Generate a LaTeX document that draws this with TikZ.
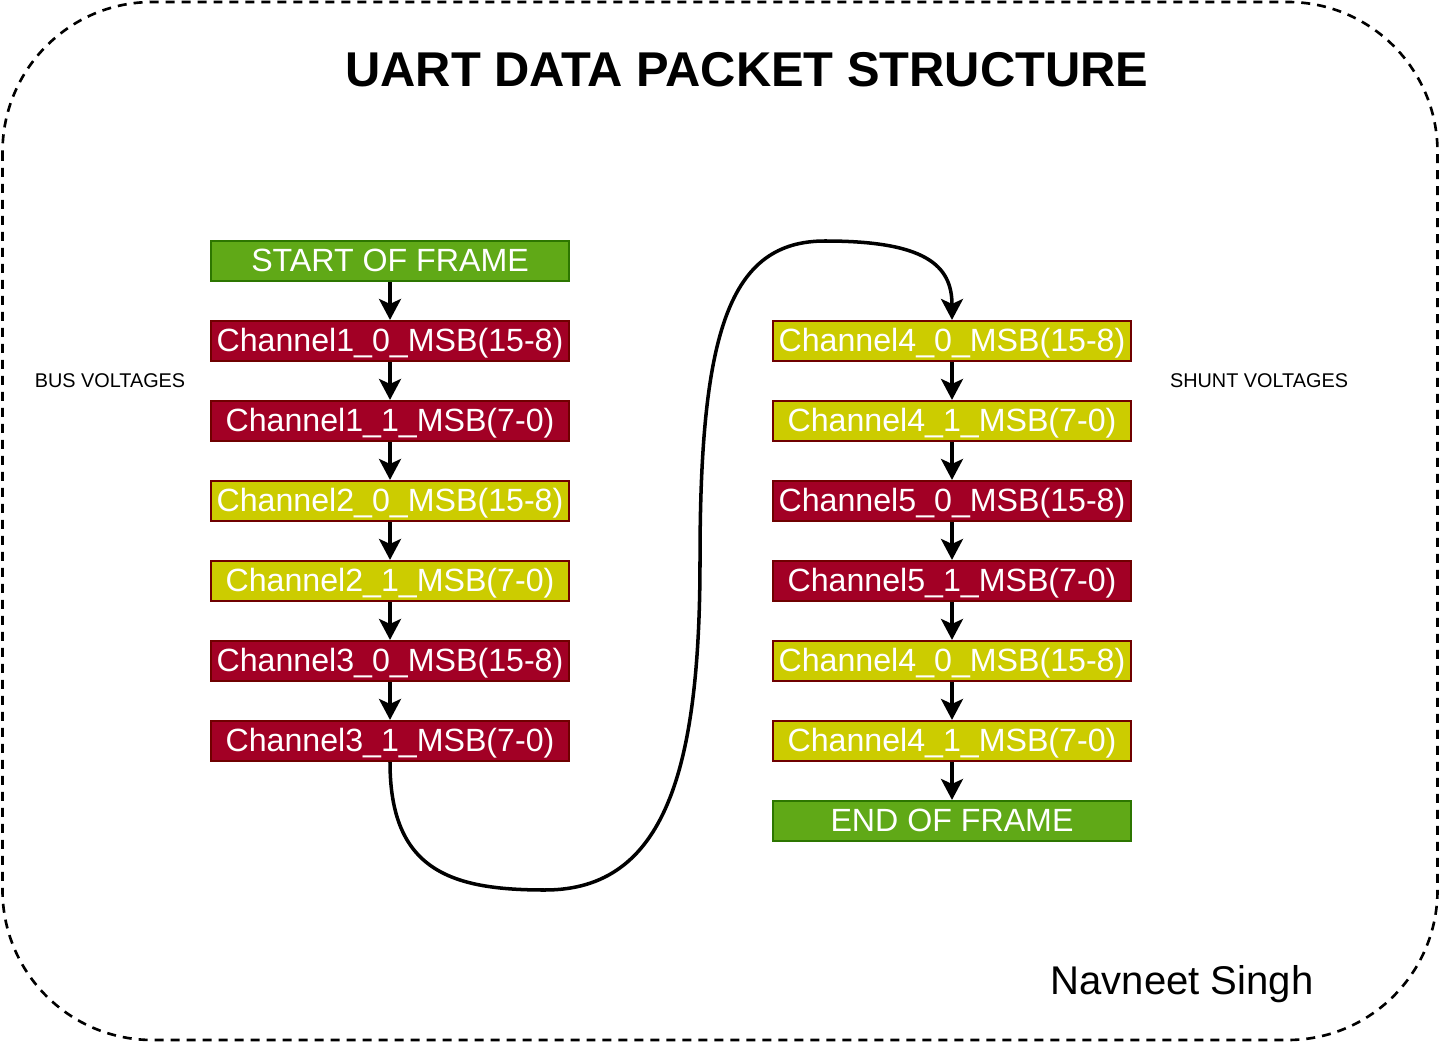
\documentclass[tikz,border=0pt]{standalone}
\usepackage{fontspec}
\setmainfont{Liberation Sans}
\usetikzlibrary{arrows.meta}

\definecolor{busred}{HTML}{A20025}
\definecolor{busredline}{HTML}{6F0000}
\definecolor{shuntyel}{HTML}{CCCC00}
\definecolor{framegreen}{HTML}{60A917}
\definecolor{framegreenline}{HTML}{2D7600}

\begin{document}
\begin{tikzpicture}[x=0.02cm, y=-0.02cm,
    packet/.style={draw, line width=1.2pt, text=white, font=\fontsize{18.3}{18.3}\selectfont,
      minimum width=7.16cm, minimum height=0.8cm, inner sep=0pt, text height=16pt, text depth=4pt},
    redpkt/.style={packet, fill=busred, draw=busredline},
    yelpkt/.style={packet, fill=shuntyel, draw=busredline},
    grnpkt/.style={packet, fill=framegreen, draw=framegreenline},
    flow/.style={line width=2pt, -{Stealth[length=0.42cm, width=0.44cm, inset=0.1cm]}}]

  \useasboundingbox (0,0) rectangle (1440,1054);
  \draw [line width=1.5pt, dash pattern=on 0.18cm off 0.14cm, rounded corners=3cm] (2.5,2) rectangle (1437.5,1040);

  \node (title) at (747,70) {\fontsize{27.8}{27.8}\selectfont\bfseries UART DATA PACKET STRUCTURE};
  \node (bus) at (110,381) {\fontsize{11.3}{11.3}\selectfont BUS VOLTAGES};
  \node (shunt) at (1259,381) {\fontsize{11.3}{11.3}\selectfont SHUNT VOLTAGES};
  \node (author) at (1182,984) {\fontsize{22.8}{22.8}\selectfont Navneet Singh};

  % left column
  \node [grnpkt] (sof) at (390,261) {START OF FRAME};
  \node [redpkt] (c1a) at (390,341) {Channel1\_0\_MSB(15-8)};
  \node [redpkt] (c1b) at (390,421) {Channel1\_1\_MSB(7-0)};
  \node [yelpkt] (c2a) at (390,501) {Channel2\_0\_MSB(15-8)};
  \node [yelpkt] (c2b) at (390,581) {Channel2\_1\_MSB(7-0)};
  \node [redpkt] (c3a) at (390,661) {Channel3\_0\_MSB(15-8)};
  \node [redpkt] (c3b) at (390,741) {Channel3\_1\_MSB(7-0)};

  % right column
  \node [yelpkt] (c4a) at (952,341) {Channel4\_0\_MSB(15-8)};
  \node [yelpkt] (c4b) at (952,421) {Channel4\_1\_MSB(7-0)};
  \node [redpkt] (c5a) at (952,501) {Channel5\_0\_MSB(15-8)};
  \node [redpkt] (c5b) at (952,581) {Channel5\_1\_MSB(7-0)};
  \node [yelpkt] (c6a) at (952,661) {Channel4\_0\_MSB(15-8)};
  \node [yelpkt] (c6b) at (952,741) {Channel4\_1\_MSB(7-0)};
  \node [grnpkt] (eof) at (952,821) {END OF FRAME};

  \draw [flow] (sof) -- (c1a);
  \draw [flow] (c1a) -- (c1b);
  \draw [flow] (c1b) -- (c2a);
  \draw [flow] (c2a) -- (c2b);
  \draw [flow] (c2b) -- (c3a);
  \draw [flow] (c3a) -- (c3b);

  \draw [flow] (c3b.south) .. controls (390,870) and (450,890) .. (545,890)
    .. controls (665,890) and (700,770) .. (700,560)
    .. controls (700,330) and (730,241) .. (825,241)
    .. controls (925,241) and (952,265) .. (c4a.north);

  \draw [flow] (c4a) -- (c4b);
  \draw [flow] (c4b) -- (c5a);
  \draw [flow] (c5a) -- (c5b);
  \draw [flow] (c5b) -- (c6a);
  \draw [flow] (c6a) -- (c6b);
  \draw [flow] (c6b) -- (eof);

\end{tikzpicture}
\end{document}
